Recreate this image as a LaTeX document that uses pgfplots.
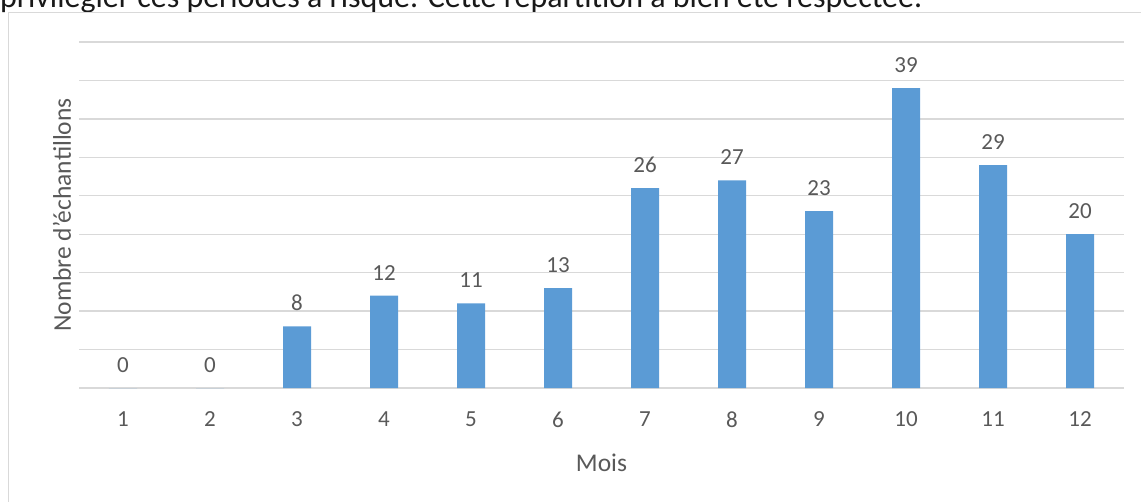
\documentclass[border=0pt]{standalone}
\usepackage{pgfplots}
\pgfplotsset{compat=1.18}
\usepackage{fontspec}
\setmainfont{Carlito}
\definecolor{barblue}{HTML}{5B9BD5}
\definecolor{gridgray}{HTML}{D9D9D9}
\definecolor{txtgray}{HTML}{595959}
\begin{document}
\begin{tikzpicture}[x=1pt,y=1pt]
\useasboundingbox (0,0) rectangle (1141,501);
\begin{scope}
\clip (0,0) rectangle (1141,501);
\node[anchor=base west, inner sep=0pt, font=\fontsize{32}{36}\selectfont, text=black!90] at (0,501-8) {privilégier ces périodes à risque. Cette répartition a bien été respectée.};
\draw[gridgray, line width=1.5pt] (8.5,-5) -- (8.5,501-12.5) -- (1150,501-12.5);
\end{scope}
\begin{axis}[
  at={(79.5pt,113pt)}, anchor=origin,
  scale only axis, width=1044pt, height=346pt,
  xmin=0.5, xmax=12.5, ymin=0, ymax=45,
  xtick={1,...,12}, ytick={0,5,...,45}, yticklabels={},
  ymajorgrids, grid style={gridgray, line width=1.3pt},
  axis line style={draw=none}, major tick length=0pt,
  /pgf/number format/assume math mode=true,
  tick label style={font=\fontsize{23}{26}\selectfont, text=txtgray},
  xticklabel style={yshift=-20pt},
  xlabel={Mois}, ylabel={Nombre d'échantillons},
  label style={font=\fontsize{25.5}{28}\selectfont, text=txtgray},
  xlabel style={yshift=-20pt},
  ylabel style={yshift=-2pt},
  clip=false,
  nodes near coords,
  every node near coord/.append style={font=\fontsize{23}{26}\selectfont, text=txtgray, yshift=12pt, /pgf/number format/assume math mode=true},
]
\addplot[ybar, bar width=28pt, fill=barblue, draw=none] coordinates {
(1,0) (2,0) (3,8) (4,12) (5,11) (6,13) (7,26) (8,27) (9,23) (10,39) (11,29) (12,20)
};
\end{axis}
\end{tikzpicture}
\end{document}
